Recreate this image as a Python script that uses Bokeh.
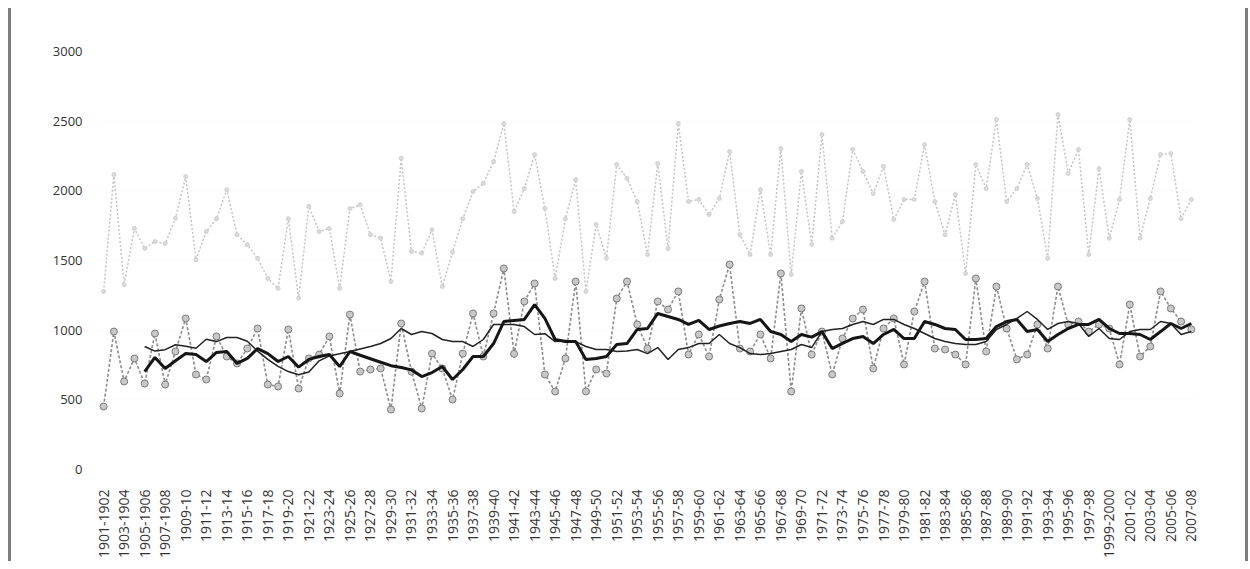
from math import pi
from bokeh.plotting import figure
from bokeh.models import Range1d, FixedTicker, ColumnDataSource
from bokeh.embed import file_html
from bokeh.resources import INLINE

categories = [
    "1901-1902", "1902-1903", "1903-1904", "1904-1905", "1905-1906", "1906-1907", "1907-1908", "1908-1909",
    "1909-10", "1910-11", "1911-12", "1912-13", "1913-14", "1914-15", "1915-16", "1916-17", "1917-18",
    "1918-19", "1919-20", "1920-21", "1921-22", "1922-23", "1923-24", "1924-25", "1925-26", "1926-27",
    "1927-28", "1928-29", "1929-30", "1930-31", "1931-32", "1932-33", "1933-34", "1934-35", "1935-36",
    "1936-37", "1937-38", "1938-39", "1939-40", "1940-41", "1941-42", "1942-43", "1943-44", "1944-45",
    "1945-46", "1946-47", "1947-48", "1948-49", "1949-50", "1950-51", "1951-52", "1952-53", "1953-54",
    "1954-55", "1955-56", "1956-57", "1957-58", "1958-59", "1959-60", "1960-61", "1961-62", "1962-63",
    "1963-64", "1964-65", "1965-66", "1966-67", "1967-68", "1968-69", "1969-70", "1970-71", "1971-72",
    "1972-73", "1973-74", "1974-75", "1975-76", "1976-77", "1977-78", "1978-79", "1979-80", "1980-81",
    "1981-82", "1982-83", "1983-84", "1984-85", "1985-86", "1986-87", "1987-88", "1988-89", "1989-90",
    "1990-91", "1991-92", "1992-93", "1993-94", "1994-95", "1995-96", "1996-97", "1997-98", "1998-99",
    "1999-2000", "2000-01", "2001-02", "2002-03", "2003-04", "2004-05", "2005-06", "2006-07", "2007-08",
]

upper_series = [
    1278, 2117, 1327, 1730, 1588, 1636, 1622, 1803, 2103, 1506,
    1708, 1800, 2008, 1685, 1614, 1516, 1371, 1300, 1800, 1230,
    1888, 1708, 1730, 1300, 1873, 1900, 1685, 1660, 1350, 2234,
    1565, 1553, 1720, 1313, 1560, 1800, 1995, 2053, 2210, 2483,
    1851, 2017, 2260, 1873, 1371, 1800, 2081, 1278, 1758, 1516,
    2189, 2089, 1923, 1543, 2196, 1586, 2483, 1923, 1938, 1830,
    1945, 2282, 1685, 1543, 2008, 1543, 2304, 1400, 2139, 1615,
    2404, 1660, 1780, 2297, 2139, 1981, 2175, 1794, 1938, 1938,
    2332, 1923, 1685, 1974, 1407, 2189, 2017, 2512, 1923, 2017,
    2189, 1945, 1516, 2548, 2125, 2297, 1543, 2160, 1660, 1938,
    2512, 1660, 1945, 2260, 2268, 1800, 1938,
]

annual_series = [
    452, 990, 632, 797, 617, 976, 610, 847, 1084, 682,
    646, 955, 811, 761, 868, 1012, 610, 596, 1005, 581,
    797, 825, 955, 545, 1112, 703, 718, 725, 430, 1048,
    703, 438, 832, 725, 502, 832, 1120, 811, 1120, 1443,
    830, 1206, 1335, 682, 560, 797, 1349, 560, 718, 689,
    1227, 1349, 1041, 868, 1206, 1148, 1278, 825, 969, 811,
    1220, 1471, 868, 847, 969, 797, 1407, 560, 1156, 825,
    990, 682, 940, 1084, 1148, 725, 1012, 1084, 754, 1134,
    1349, 868, 861, 825, 754, 1371, 847, 1313, 1012, 790,
    825, 1041, 868, 1313, 1041, 1062, 990, 1041, 1012, 754,
    1184, 811, 883, 1278, 1156, 1062, 1005,
]

trend_start = 4
thick_trend = [
    703, 804, 725, 780, 832, 825, 775, 840, 847, 761,
    797, 868, 832, 775, 811, 735, 790, 811, 825, 739,
    847, 820, 795, 770, 745, 732, 715, 667, 696, 739,
    646, 718, 811, 811, 904, 1062, 1070, 1077, 1184, 1084,
    933, 918, 918, 790, 797, 811, 897, 904, 1005, 1012,
    1120, 1098, 1077, 1041, 1070, 1005, 1030, 1048, 1062, 1048,
    1077, 990, 969, 918, 969, 950, 990, 868, 905, 940,
    955, 904, 969, 1005, 940, 940, 1062, 1041, 1012, 1005,
    933, 933, 940, 1026, 1062, 1077, 990, 1005, 918, 969,
    1012, 1041, 1041, 1077, 1012, 976, 976, 969, 933, 990,
    1048, 1012, 1048,
]

thin_trend = [
    883, 850, 860, 895, 885, 870, 935, 918, 947, 947,
    920, 850, 790, 740, 703, 680, 700, 780, 815, 830,
    847, 865, 883, 904, 940, 1012, 969, 990, 976, 933,
    918, 918, 883, 933, 1041, 1041, 1041, 1026, 969, 975,
    918, 925, 918, 883, 861, 861, 847, 850, 861, 832,
    875, 790, 861, 875, 904, 904, 969, 904, 875, 832,
    825, 832, 847, 861, 897, 875, 990, 1005, 1012, 1041,
    1062, 1041, 1077, 1077, 1041, 1012, 976, 940, 918, 904,
    897, 897, 918, 1005, 1041, 1084, 1134, 1077, 1005, 1048,
    1062, 1048, 955, 1012, 940, 933, 990, 1005, 1005, 1062,
    1048, 969, 990,
]

y_ticks = [0, 500, 1000, 1500, 2000, 2500, 3000]

n = len(categories)
xs = list(range(n))

src_upper = ColumnDataSource(dict(x=xs, y=upper_series))
src_annual = ColumnDataSource(dict(x=xs, y=annual_series))
src_thick = ColumnDataSource(dict(x=list(range(trend_start, trend_start + len(thick_trend))), y=thick_trend))
src_thin = ColumnDataSource(dict(x=list(range(trend_start, trend_start + len(thin_trend))), y=thin_trend))

p = figure(width=1240, height=553, output_backend="svg", toolbar_location=None,
           x_range=Range1d(-0.5, n - 0.5), y_range=Range1d(0, 3000),
           min_border_left=87, min_border_right=55, min_border_top=43, min_border_bottom=92)
p.outline_line_color = None
p.background_fill_color = "white"
p.border_fill_color = "white"
p.styles = {"margin-left": "8px", "margin-top": "8px",
            "border-left": "3px solid #7d7d7d", "border-right": "3px solid #7d7d7d"}

p.xgrid.grid_line_color = None
p.ygrid.grid_line_color = "#efefef"
p.ygrid.grid_line_dash = "1 3"
p.ygrid.ticker = FixedTicker(ticks=y_ticks)

# upper light dotted series
p.line("x", "y", source=src_upper, line_color="#c4c4c4", line_width=1.5, line_dash="2 2")
p.scatter("x", "y", source=src_upper, size=4, marker="circle", fill_color="#dcdcdc",
          line_color="#c8c8c8", line_width=0.8)

# annual series with markers
p.line("x", "y", source=src_annual, line_color="#8c8c8c", line_width=1.6, line_dash="3 2")
p.scatter("x", "y", source=src_annual, size=7, marker="circle", fill_color="#c8c8c8",
          line_color="#7a7a7a", line_width=1)

# trend lines
p.line("x", "y", source=src_thin, line_color="#222222", line_width=1.5)
p.line("x", "y", source=src_thick, line_color="#151515", line_width=3)

font = "Open Sans"
p.yaxis.ticker = FixedTicker(ticks=y_ticks)
p.yaxis.axis_line_color = None
p.yaxis.major_tick_line_color = None
p.yaxis.minor_tick_line_color = None
p.yaxis.major_label_text_font = font
p.yaxis.major_label_text_font_size = "13px"
p.yaxis.major_label_text_color = "#333333"
p.yaxis.major_label_standoff = 10

p.xaxis.ticker = FixedTicker(ticks=xs[::2])
p.xaxis.major_label_overrides = {i: categories[i] for i in xs[::2]}
p.xaxis.major_label_orientation = pi / 2
p.xaxis.axis_line_color = None
p.xaxis.major_tick_line_color = None
p.xaxis.minor_tick_line_color = None
p.xaxis.major_label_text_font = font
p.xaxis.major_label_text_font_size = "14px"
p.xaxis.major_label_text_color = "#333333"
p.xaxis.major_label_standoff = 14

open("out.html", "w").write(file_html(p, INLINE))
